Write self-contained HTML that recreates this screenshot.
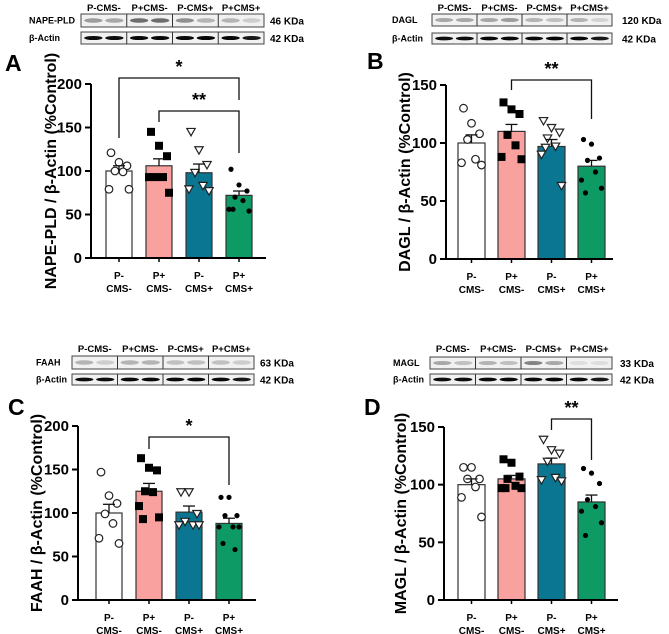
<!DOCTYPE html>
<html><head><meta charset="utf-8">
<style>
html,body{margin:0;padding:0;background:#fff;}
svg{display:block;font-family:"Liberation Sans",Arial,sans-serif;font-weight:bold;}
</style></head>
<body>
<svg id="fig" width="669" height="634" viewBox="0 0 669 634" xmlns="http://www.w3.org/2000/svg"></svg>
<script>
const categories = ["P-|CMS-","P+|CMS-","P-|CMS+","P+|CMS+"];
const blotGroups = ["P-CMS-","P+CMS-","P-CMS+","P+CMS+"];

const meansA = [100,106,98,72];
const errA = [6,8,10,5];
const ptsA1 = [121,110,106,100,99,79,79];
const ptsA2 = [145,129,117,93,93,93,75];
const ptsA3 = [145,124,107,98,83,79,77];
const ptsA4 = [102,84,77,70,66,56,54,56];

const meansB = [100,110,97,80];
const errB = [7,6,6,5];
const ptsB1 = [130,117,108,103,86,83,81];
const ptsB2 = [135,129,125,107,98,88,86];
const ptsB3 = [119,113,109,104,97,90,63,96];
const ptsB4 = [103,99,87,85,75,68,61,57];

const meansC = [100,125,101,88];
const errC = [10,9,7,6];
const ptsC1 = [147,120,111,99,88,71,65];
const ptsC2 = [163,152,149,125,124,108,95,93];
const ptsC3 = [124,124,99,90,86,86,86];
const ptsC4 = [118,118,97,97,84,84,84,65,58];

const meansD = [100,105,118,85];
const errD = [5,3,5,6];
const ptsD1 = [115,115,105,105,98,89,72];
const ptsD2 = [122,119,107,105,99,97,97,97];
const ptsD3 = [139,130,127,120,106,104,103];
const ptsD4 = [114,110,101,87,81,77,67,56];

const ticksA = [0,50,100,150,200];
const ticksB = [0,50,100,150];
const ticksC = [0,50,100,150,200];
const ticksD = [0,50,100,150];

const NS="http://www.w3.org/2000/svg";
const svg=document.getElementById('fig');
function mk(tag,attrs,parent,text){
  const e=document.createElementNS(NS,tag);
  for(const k in attrs) e.setAttribute(k,attrs[k]);
  if(text!==undefined) e.textContent=text;
  (parent||svg).appendChild(e); return e;
}
const fills=["#ffffff","#f9a19e","#0b7692","#0e9a64"];
const jit=[-8,0,8,-4,4,-10,10,-6,6];

function panel(p){
  const g=mk('g',{});
  
  
  const ys=v=>p.y0-(v/p.ymax)*(p.y0-p.ytop);
  const xc=i=>p.bx0+p.bw/2+i*p.step;
  const L=mk('text',{x:p.lx,y:p.ly,'font-size':23},g,p.letter);
  
  
  const bg=mk('g',{},g);
  
  
  const bwid=(p.bx1-p.bx0b)/4;
  blotGroups.forEach((t,i)=>{
    const tx=mk('text',{x:p.bx0b+bwid*(i+0.5),y:p.bly,'font-size':9.5,'text-anchor':'middle'},bg,t);
    
    
  });
  [[p.r1y0,p.r1y1,p.prot,p.kda,p.int1],[p.r2y0,p.r2y1,'β-Actin','42 KDa',[0.95,0.95,0.97,0.97,0.97,0.98,0.97,0.9]]].forEach(r=>{
    mk('rect',{x:p.bx0b,y:r[0],width:p.bx1-p.bx0b,height:r[1]-r[0],fill:'#f1f1f1',stroke:'#444','stroke-width':1},bg);
    for(let k=0;k<8;k++){
      const cx=p.bx0b+bwid*(Math.floor(k/2))+bwid*(k%2?0.73:0.27);
      const a=r[4][k];
      mk('ellipse',{cx:cx,cy:(r[0]+r[1])/2,rx:bwid*0.2,ry:(r[1]-r[0])*0.17,fill:'#000','fill-opacity':a},bg);
    }
    for(let k=1;k<4;k++) mk('line',{x1:p.bx0b+bwid*k,x2:p.bx0b+bwid*k,y1:r[0],y2:r[1],stroke:'#333','stroke-width':1},bg);
    const pl=mk('text',{x:p.plx,y:(r[0]+r[1])/2+3,'font-size':9},bg,r[2]);
    
    
    const kl=mk('text',{x:p.kx,y:(r[0]+r[1])/2+4,'font-size':10},bg,r[3]);
    
    
  });
  p.means.forEach((m,i)=>{
    const b=mk('rect',{x:p.bx0+i*p.step,y:ys(m),width:p.bw,height:p.y0-ys(m),fill:fills[i],stroke:'#333','stroke-width':1.2},g);
    
    
  });
  p.pts.forEach((arr,i)=>{
    arr.forEach((v,j)=>{
      const x=xc(i)+jit[j%jit.length], y=ys(v);
      let e;
      if(i===0) e=mk('circle',{cx:x,cy:y,r:3.8,fill:'#fff',stroke:'#222','stroke-width':1.2},g);
      else if(i===1) e=mk('rect',{x:x-4,y:y-4,width:8,height:8,fill:'#000'},g);
      else if(i===2) e=mk('path',{d:`M${x-4.2},${y-3.4} L${x+4.2},${y-3.4} L${x},${y+4} Z`,fill:'#fff',stroke:'#222','stroke-width':1.2},g);
      else e=mk('circle',{cx:x,cy:y,r:2.6,fill:'#000'},g);
      
      
    });
  });
  p.means.forEach((m,i)=>{
    const x=xc(i),yt=ys(m+p.err[i]);
    mk('line',{x1:x,x2:x,y1:ys(m),y2:yt,stroke:'#111','stroke-width':1.3},g);
    const c=mk('line',{x1:x-6,x2:x+6,y1:yt,y2:yt,stroke:'#111','stroke-width':1.3},g);
    
    
  });
  mk('line',{x1:p.ax,x2:p.ax,y1:p.ytop,y2:p.y0,stroke:'#000','stroke-width':2},g);
  const xa=mk('line',{x1:p.ax-1,x2:p.axEnd,y1:p.y0,y2:p.y0,stroke:'#000','stroke-width':2},g);
  
  
  p.ticks.forEach(t=>{
    mk('line',{x1:p.ax-6,x2:p.ax,y1:ys(t),y2:ys(t),stroke:'#000','stroke-width':2},g);
    const tl=mk('text',{x:p.ax-9,y:ys(t)+5,'font-size':15,'text-anchor':'end'},g,t);
    
    
  });
  categories.forEach((c,i)=>{
    const x=xc(i);
    mk('line',{x1:x,x2:x,y1:p.y0,y2:p.y0+4,stroke:'#000','stroke-width':1.5},g);
    const parts=c.split('|');
    const t1=mk('text',{x:x,y:p.y0+21,'font-size':10,'text-anchor':'middle'},g,parts[0]);
    
    
    const t2=mk('text',{x:x,y:p.y0+34,'font-size':10,'text-anchor':'middle'},g,parts[1]);
    
    
  });
  const yt=mk('text',{x:0,y:0,'font-size':16,'text-anchor':'middle',transform:`translate(${p.ytx},${(p.ytop+p.y0)/2}) rotate(-90)`},g,p.ytitle);
  
  
  p.sig.forEach(s=>{
    const x1=xc(s.a),x2=xc(s.b);
    mk('path',{d:`M${x1},${s.l} L${x1},${s.y} L${x2},${s.y} L${x2},${s.r}`,fill:'none',stroke:'#111','stroke-width':1.3},g);
    const st=mk('text',{x:(x1+x2)/2,y:s.y-5,'font-size':18,'text-anchor':'middle'},g,s.t);
    
    
  });
}

panel({letter:'A',lx:5,ly:71,ax:91,axEnd:266,y0:258,ytop:84,ymax:200,ticks:ticksA,bx0:106,bw:26,step:40,
  means:meansA,err:errA,pts:[ptsA1,ptsA2,ptsA3,ptsA4],ytx:56,ytitle:'NAPE-PLD / β-Actin (%Control)',
  bx0b:81,bx1:264,bly:11,r1y0:14,r1y1:27,r2y0:32,r2y1:44,plx:29,kx:270,prot:'NAPE-PLD',kda:'46 KDa',
  int1:[0.35,0.3,0.55,0.55,0.4,0.25,0.25,0.15],
  sig:[{a:0,b:3,y:78,l:138,r:100,t:'*'},{a:1,b:3,y:111,l:122,r:153,t:'**'}]});
panel({letter:'B',lx:367,ly:69,ax:446,axEnd:613,y0:259,ytop:85,ymax:150,ticks:ticksB,bx0:458,bw:27,step:40,
  means:meansB,err:errB,pts:[ptsB1,ptsB2,ptsB3,ptsB4],ytx:410,ytitle:'DAGL / β-Actin (%Control)',
  bx0b:432,bx1:612,bly:11,r1y0:14,r1y1:26,r2y0:33,r2y1:44,plx:392,kx:622,prot:'DAGL',kda:'120 KDa',
  int1:[0.3,0.3,0.3,0.35,0.25,0.2,0.25,0.12],
  sig:[{a:1,b:3,y:80,l:90,r:119,t:'**'}]});
panel({letter:'C',lx:8,ly:415,ax:78,axEnd:256,y0:600,ytop:426,ymax:200,ticks:ticksC,bx0:96,bw:26,step:40,
  means:meansC,err:errC,pts:[ptsC1,ptsC2,ptsC3,ptsC4],ytx:42,ytitle:'FAAH / β-Actin (%Control)',
  bx0b:72,bx1:254,bly:352,r1y0:356,r1y1:369,r2y0:374,r2y1:385,plx:36,kx:260,prot:'FAAH',kda:'63 KDa',
  int1:[0.25,0.15,0.25,0.25,0.2,0.2,0.2,0.15],
  sig:[{a:1,b:3,y:437,l:449,r:485,t:'*'}]});
panel({letter:'D',lx:364,ly:415,ax:444,axEnd:618,y0:600,ytop:427,ymax:150,ticks:ticksD,bx0:458,bw:27,step:40,
  means:meansD,err:errD,pts:[ptsD1,ptsD2,ptsD3,ptsD4],ytx:406,ytitle:'MAGL / β-Actin (%Control)',
  bx0b:430,bx1:612,bly:352,r1y0:357,r1y1:369,r2y0:374,r2y1:385,plx:393,kx:620,prot:'MAGL',kda:'33 KDa',
  int1:[0.3,0.2,0.25,0.2,0.45,0.3,0.08,0.08],
  sig:[{a:2,b:3,y:419,l:430,r:460,t:'**'}]});
</script>
</body></html>
